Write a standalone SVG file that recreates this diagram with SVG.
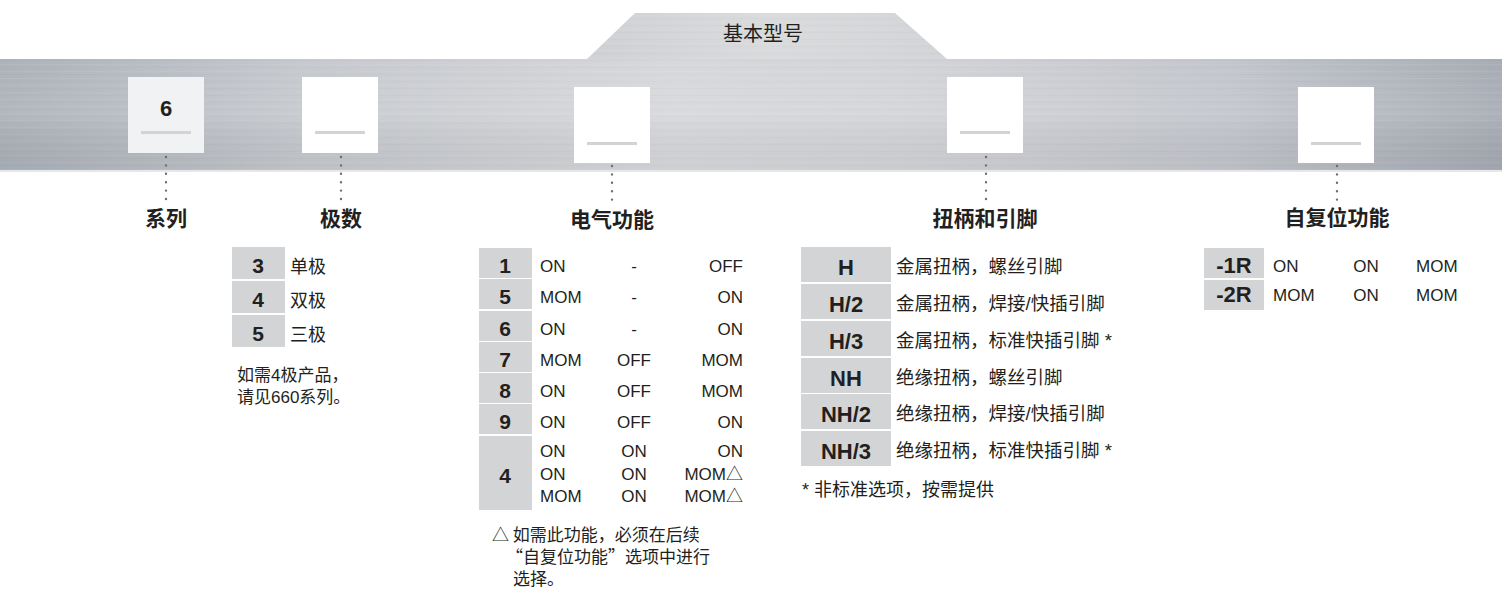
<svg xmlns="http://www.w3.org/2000/svg" width="1502" height="589" viewBox="0 0 1502 589">
<defs>
<linearGradient id="band" x1="0" y1="0" x2="1" y2="0">
<stop offset="0" stop-color="#aab0b8"/>
<stop offset="0.2" stop-color="#c4c7cc"/>
<stop offset="0.45" stop-color="#d6d7da"/>
<stop offset="0.6" stop-color="#d2d3d7"/>
<stop offset="0.82" stop-color="#c1c4ca"/>
<stop offset="1" stop-color="#a5aab3"/>
</linearGradient>
<linearGradient id="bump" x1="0" y1="0" x2="1" y2="0">
<stop offset="0" stop-color="#cfd1d4"/>
<stop offset="0.5" stop-color="#dadbdd"/>
<stop offset="1" stop-color="#d3d4d7"/>
</linearGradient>
<linearGradient id="shade" x1="0" y1="0" x2="0" y2="1">
<stop offset="0" stop-color="#ffffff" stop-opacity="0.03"/>
<stop offset="0.5" stop-color="#ffffff" stop-opacity="0.1"/>
<stop offset="1" stop-color="#000000" stop-opacity="0.03"/>
</linearGradient>
<pattern id="brush" width="1502" height="7" patternUnits="userSpaceOnUse">
<rect x="0" y="1" width="1502" height="1" fill="#ffffff" opacity="0.06"/>
<rect x="0" y="4" width="1502" height="1" fill="#000000" opacity="0.02"/>
</pattern>
</defs>
<style>
.cell{fill:#d3d4d6}
.code{font-family:"Liberation Sans",Arial,sans-serif;font-weight:bold;fill:#231f20;text-anchor:middle}
.t{font-family:"Liberation Sans","Noto Sans CJK SC",sans-serif;font-size:17px;fill:#231f20}
.cjk{font-family:"Liberation Sans","Noto Sans CJK SC",sans-serif;font-size:18px;fill:#231f20}
.zh{font-family:"Noto Sans CJK SC",sans-serif;font-size:17px;fill:#231f20}
.head{font-family:"Noto Sans CJK SC","Liberation Sans",sans-serif;font-size:21px;font-weight:bold;fill:#231f20;text-anchor:middle}
.box{fill:#ffffff}
.ul{fill:#d2d3d4}
.dots{stroke:#6d6e71;stroke-width:2.4;stroke-linecap:round;stroke-dasharray:0 8.4;fill:none}
.mid{text-anchor:middle}
.end{text-anchor:end}
</style>

<g id="banner">
<polygon points="587,59 635,13 895,13 947,59" fill="url(#bump)"/>
<polygon points="587,59 635,13 895,13 947,59" fill="url(#brush)"/>
<rect x="0" y="59" width="1502" height="112" fill="url(#band)"/>
<rect x="0" y="59" width="1502" height="112" fill="url(#brush)"/>
<rect x="0" y="59" width="1502" height="112" fill="url(#shade)"/>
<rect x="0" y="170" width="1502" height="2" fill="#e6e7e9"/>
<text x="763" y="41" class="zh mid" style="font-size:20px">基本型号</text>
</g>

<g id="node-series">
<rect x="128" y="77" width="76" height="76" fill="#f1f2f3"/>
<rect x="141" y="131" width="50" height="3" class="ul"/>
<text x="166" y="116" class="code" style="font-size:22px">6</text>
<text x="166" y="226" class="head">系列</text>
</g>

<g id="node-poles">
<rect x="302" y="77" width="76" height="76" class="box"/>
<rect x="315" y="131" width="50" height="3" class="ul"/>
<text x="341" y="226" class="head">极数</text>
<rect x="232" y="247" width="53" height="32" class="cell"/>
<rect x="232" y="281" width="53" height="32" class="cell"/>
<rect x="232" y="315" width="53" height="32" class="cell"/>
<g class="code" style="font-size:21px">
<text x="258" y="273">3</text>
<text x="258" y="307">4</text>
<text x="258" y="341">5</text>
</g>
<text x="290" y="273" class="cjk">单极</text>
<text x="290" y="307" class="cjk">双极</text>
<text x="290" y="341" class="cjk">三极</text>
<text x="237" y="381" class="cjk" style="font-size:17px">如需4极产品，</text>
<text x="237" y="403" class="cjk" style="font-size:17px">请见660系列。</text>
</g>

<g id="node-electrical">
<rect x="574" y="87" width="76" height="76" class="box"/>
<rect x="587" y="142" width="50" height="3" class="ul"/>
<text x="612" y="227" class="head">电气功能</text>
<rect x="479" y="248" width="53" height="30" class="cell"/>
<rect x="479" y="279" width="53" height="30" class="cell"/>
<rect x="479" y="311" width="53" height="30" class="cell"/>
<rect x="479" y="342" width="53" height="30" class="cell"/>
<rect x="479" y="373" width="53" height="30" class="cell"/>
<rect x="479" y="404" width="53" height="30" class="cell"/>
<rect x="479" y="436" width="53" height="74" class="cell"/>
<g class="code" style="font-size:21px">
<text x="505" y="273">1</text>
<text x="505" y="304">5</text>
<text x="505" y="336">6</text>
<text x="505" y="367">7</text>
<text x="505" y="398">8</text>
<text x="505" y="429">9</text>
<text x="505" y="483">4</text>
</g>
<g class="t">
<text x="540" y="272">ON</text><text x="634" y="272" class="mid">-</text><text x="743" y="272" class="end">OFF</text>
<text x="540" y="303">MOM</text><text x="634" y="303" class="mid">-</text><text x="743" y="303" class="end">ON</text>
<text x="540" y="335">ON</text><text x="634" y="335" class="mid">-</text><text x="743" y="335" class="end">ON</text>
<text x="540" y="366">MOM</text><text x="634" y="366" class="mid">OFF</text><text x="743" y="366" class="end">MOM</text>
<text x="540" y="397">ON</text><text x="634" y="397" class="mid">OFF</text><text x="743" y="397" class="end">MOM</text>
<text x="540" y="428">ON</text><text x="634" y="428" class="mid">OFF</text><text x="743" y="428" class="end">ON</text>
<text x="540" y="457">ON</text><text x="634" y="457" class="mid">ON</text><text x="743" y="457" class="end">ON</text>
<text x="540" y="480">ON</text><text x="634" y="480" class="mid">ON</text><text x="743" y="480" class="end">MOM△</text>
<text x="540" y="502">MOM</text><text x="634" y="502" class="mid">ON</text><text x="743" y="502" class="end">MOM△</text>
</g>
<text x="492" y="541" class="zh">△ 如需此功能，必须在后续</text>
<text x="506" y="563" class="zh">“自复位功能”选项中进行</text>
<text x="513" y="585" class="zh">选择。</text>
</g>

<g id="node-handle">
<rect x="947" y="77" width="76" height="76" class="box"/>
<rect x="960" y="131" width="50" height="3" class="ul"/>
<text x="985" y="226" class="head">扭柄和引脚</text>
<rect x="801" y="247" width="90" height="35" class="cell"/>
<rect x="801" y="284" width="90" height="35" class="cell"/>
<rect x="801" y="321" width="90" height="35" class="cell"/>
<rect x="801" y="358" width="90" height="35" class="cell"/>
<rect x="801" y="394" width="90" height="35" class="cell"/>
<rect x="801" y="431" width="90" height="35" class="cell"/>
<g class="code" style="font-size:22px">
<text x="846" y="275">H</text>
<text x="846" y="312">H/2</text>
<text x="846" y="349">H/3</text>
<text x="846" y="386">NH</text>
<text x="846" y="422">NH/2</text>
<text x="846" y="459">NH/3</text>
</g>
<g class="cjk" style="font-size:18.5px">
<text x="896" y="273">金属扭柄，螺丝引脚</text>
<text x="896" y="310">金属扭柄，焊接/快插引脚</text>
<text x="896" y="347">金属扭柄，标准快插引脚 *</text>
<text x="896" y="384">绝缘扭柄，螺丝引脚</text>
<text x="896" y="420">绝缘扭柄，焊接/快插引脚</text>
<text x="896" y="457">绝缘扭柄，标准快插引脚 *</text>
</g>
<text x="802" y="496" class="cjk">* 非标准选项，按需提供</text>
</g>

<g id="node-autoreset">
<rect x="1298" y="87" width="76" height="76" class="box"/>
<rect x="1311" y="142" width="50" height="3" class="ul"/>
<text x="1337" y="225" class="head">自复位功能</text>
<rect x="1204" y="248" width="60" height="30" class="cell"/>
<rect x="1204" y="280" width="60" height="30" class="cell"/>
<g class="code" style="font-size:22px">
<text x="1234" y="273">-1R</text>
<text x="1234" y="302">-2R</text>
</g>
<g class="t">
<text x="1273" y="272">ON</text><text x="1366" y="272" class="mid">ON</text><text x="1416" y="272">MOM</text>
<text x="1273" y="301">MOM</text><text x="1366" y="301" class="mid">ON</text><text x="1416" y="301">MOM</text>
</g>
</g>

<g id="connectors">
<line x1="166" y1="157" x2="166" y2="200" class="dots"/>
<line x1="341" y1="157" x2="341" y2="200" class="dots"/>
<line x1="612" y1="166" x2="612" y2="200" class="dots"/>
<line x1="986" y1="157" x2="986" y2="200" class="dots"/>
<line x1="1337" y1="166" x2="1337" y2="200" class="dots"/>
</g>
</svg>
